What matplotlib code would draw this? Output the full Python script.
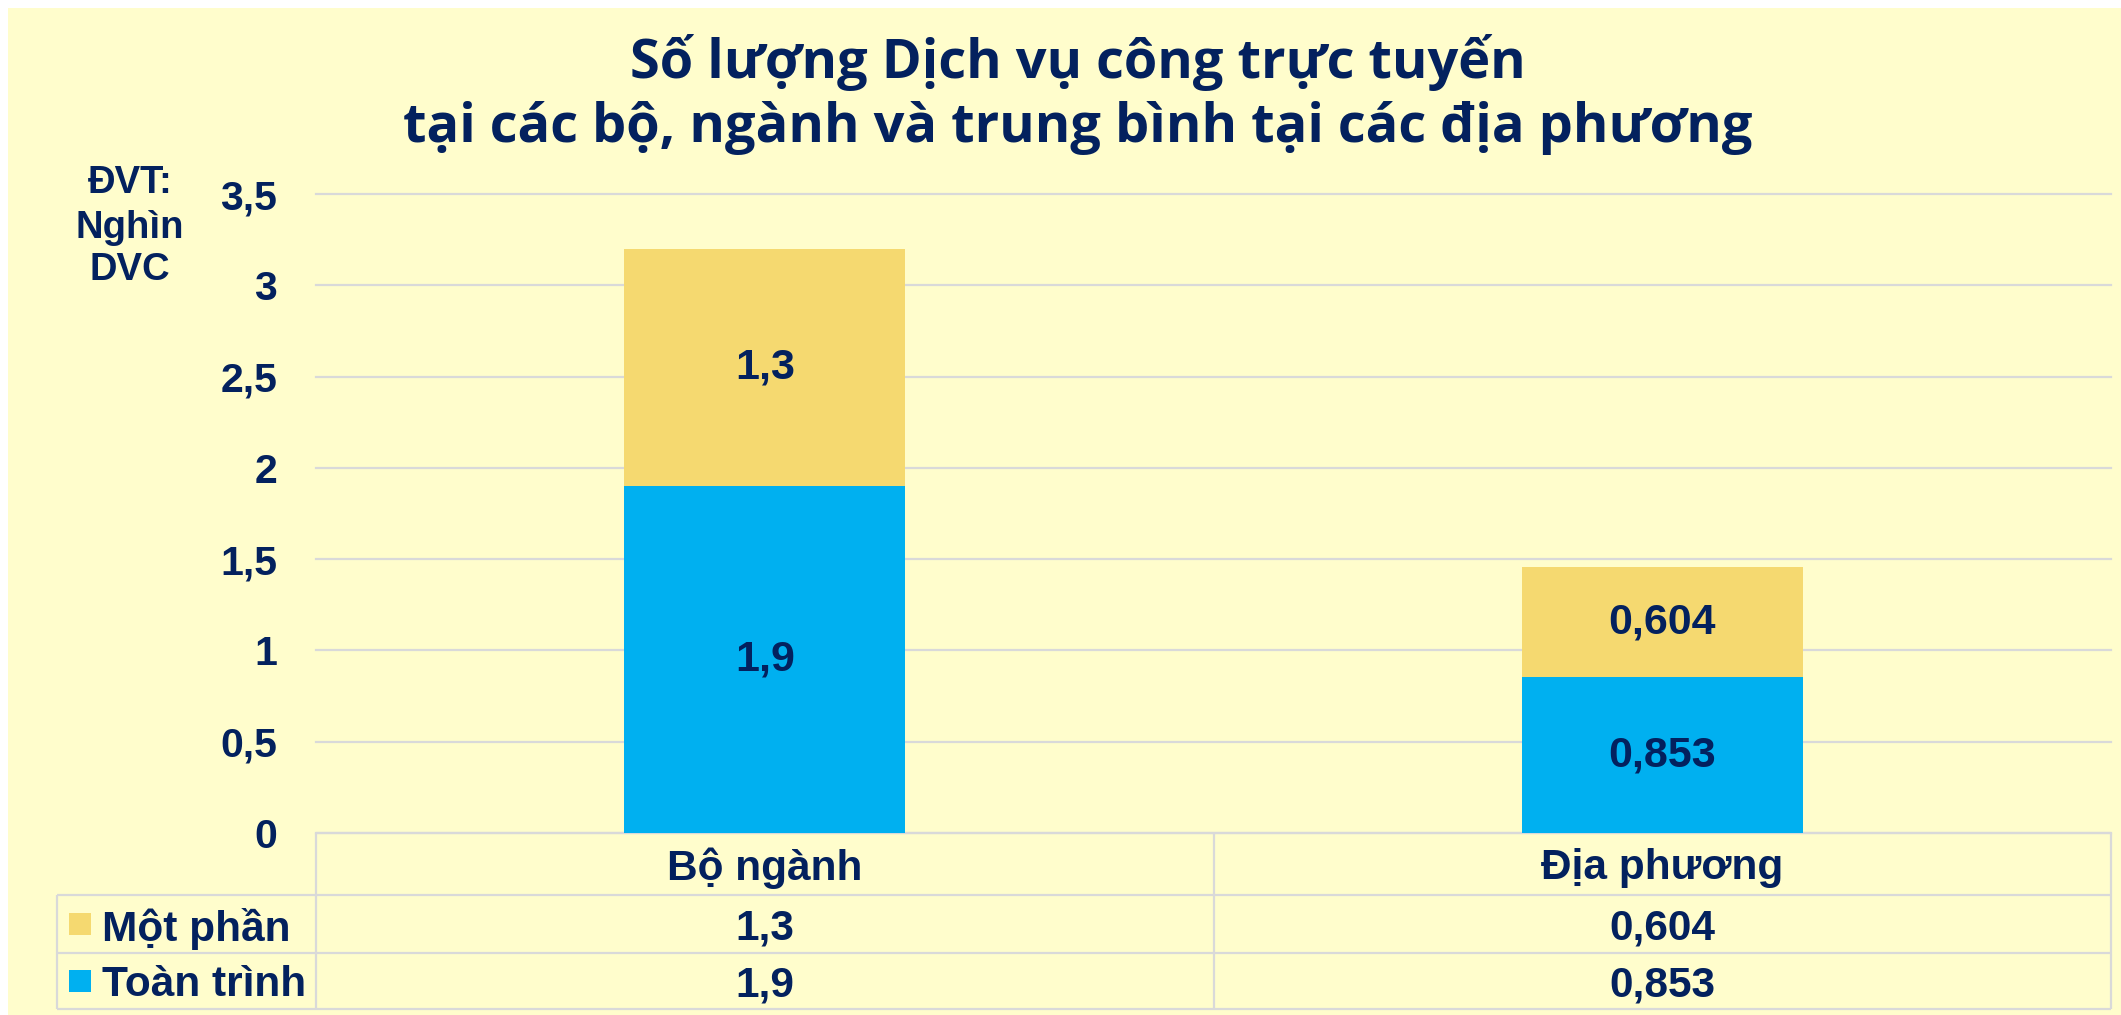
import matplotlib
matplotlib.use('Agg')
import matplotlib.pyplot as plt
from matplotlib.patches import Rectangle
from matplotlib.lines import Line2D
from matplotlib.transforms import blended_transform_factory

# ---- data ----
categories = ['Bộ ngành', 'Địa phương']
series_names = ['Một phần', 'Toàn trình']
toan_trinh = [1.9, 0.853]
mot_phan = [1.3, 0.604]
toan_trinh_labels = ['1,9', '0,853']
mot_phan_labels = ['1,3', '0,604']
yticks = [0, 0.5, 1, 1.5, 2, 2.5, 3, 3.5]
ytick_labels = ['0', '0,5', '1', '1,5', '2', '2,5', '3', '3,5']
title_lines = ['Số lượng Dịch vụ công trực tuyến',
               'tại các bộ, ngành và trung bình tại các địa phương']
unit_lines = ['ĐVT:', 'Nghìn', 'DVC']

# ---- style ----
BG = '#FFFDCC'
GOLD = '#F5D970'
BLUE = '#00B0F0'
TXT = '#03215E'
GRID = '#D9D9D9'
FONT = 'Liberation Sans'
TFONT = 'Open Sans'
TABLE_FS = 30.5

W, H = 2121, 1015
fig = plt.figure(figsize=(W / 100, H / 100), dpi=100)
fig.patch.set_facecolor('white')


def fx(px):
    return px / W


def fy(py):
    return 1 - py / H


fig.patches.append(Rectangle((fx(8), 0), 1 - fx(8), fy(8), transform=fig.transFigure,
                             facecolor=BG, edgecolor='none', zorder=-5))

ax = fig.add_axes([fx(316), fy(833), fx(2111) - fx(316), fy(194) - fy(833)])
ax.set_zorder(2)
ax.set_facecolor('none')
ax.set_xlim(-0.5, 1.5)
ax.set_ylim(0, 3.5)
for s in ax.spines.values():
    s.set_visible(False)
ax.set_yticks(yticks)
ax.set_yticklabels(ytick_labels, fontsize=29.5, fontweight='bold', color=TXT, family=FONT)
ax.tick_params(axis='y', length=0, pad=28)
ax.set_xticks([])
ax.yaxis.grid(True, color=GRID, lw=1.6)
ax.set_axisbelow(True)
for gl in ax.get_ygridlines():
    gl.set_clip_on(False)

x = list(range(len(categories)))
bw = 0.313
ax.bar(x, toan_trinh, width=bw, color=BLUE, zorder=3)
ax.bar(x, mot_phan, width=bw, bottom=toan_trinh, color=GOLD, zorder=3)
for i in x:
    ax.text(i, toan_trinh[i] / 2, toan_trinh_labels[i], ha='center', va='center',
            fontsize=31, fontweight='bold', color=TXT, family=FONT, zorder=4)
    ax.text(i, toan_trinh[i] + mot_phan[i] / 2, mot_phan_labels[i], ha='center', va='center',
            fontsize=31, fontweight='bold', color=TXT, family=FONT, zorder=4)

# ---- title ----
fig.text(fx(1078), fy(78), title_lines[0], ha='center', va='baseline', fontsize=39,
         fontweight='bold', color=TXT, family=TFONT)
fig.text(fx(1078), fy(142), title_lines[1], ha='center', va='baseline', fontsize=39,
         fontweight='bold', color=TXT, family=TFONT)

# ---- unit label ----
for ln, by in zip(unit_lines, [193, 238, 280]):
    fig.text(fx(130), fy(by), ln, ha='center', va='baseline', fontsize=27.5,
             fontweight='bold', color=TXT, family=FONT)

# ---- data table ----
bt = blended_transform_factory(ax.transData, fig.transFigure)
y_head_top, y_r1, y_r2, y_bot = 833, 895, 953, 1009
x_left_px = 57
lkw = dict(color=GRID, lw=1.6, solid_capstyle='butt')

x_right_fig = fx(2111)
fig.add_artist(Line2D([-0.5, 1.5], [fy(y_head_top)] * 2, transform=bt, **lkw))
for ypx in [y_r1, y_r2, y_bot]:
    fig.add_artist(Line2D([fx(x_left_px), x_right_fig], [fy(ypx)] * 2,
                          transform=fig.transFigure, **lkw))
for xd in [-0.5, 0.5, 1.5]:
    fig.add_artist(Line2D([xd, xd], [fy(y_head_top), fy(y_bot)], transform=bt, **lkw))
fig.add_artist(Line2D([fx(x_left_px)] * 2, [fy(y_r1), fy(y_bot)],
                      transform=fig.transFigure, **lkw))

rows = [(mot_phan_labels, GOLD, series_names[0], (y_r1 + y_r2) / 2),
        (toan_trinh_labels, BLUE, series_names[1], (y_r2 + y_bot) / 2)]
for i in x:
    fig.text(i, fy((y_head_top + y_r1) / 2), categories[i], transform=bt, ha='center',
             va='center_baseline', fontsize=TABLE_FS, fontweight='bold', color=TXT, family=FONT)
for labels, col, name, yc in rows:
    for i in x:
        fig.text(i, fy(yc), labels[i], transform=bt, ha='center', va='center_baseline',
                 fontsize=TABLE_FS, fontweight='bold', color=TXT, family=FONT)
    fig.patches.append(Rectangle((fx(69), fy(yc + 11)), fx(22), 22 / H,
                                 transform=fig.transFigure, facecolor=col, edgecolor='none'))
    fig.text(fx(102), fy(yc), name, ha='left', va='center_baseline', fontsize=TABLE_FS,
             fontweight='bold', color=TXT, family=FONT)

fig.savefig('out.png', dpi=100, facecolor=fig.get_facecolor())
